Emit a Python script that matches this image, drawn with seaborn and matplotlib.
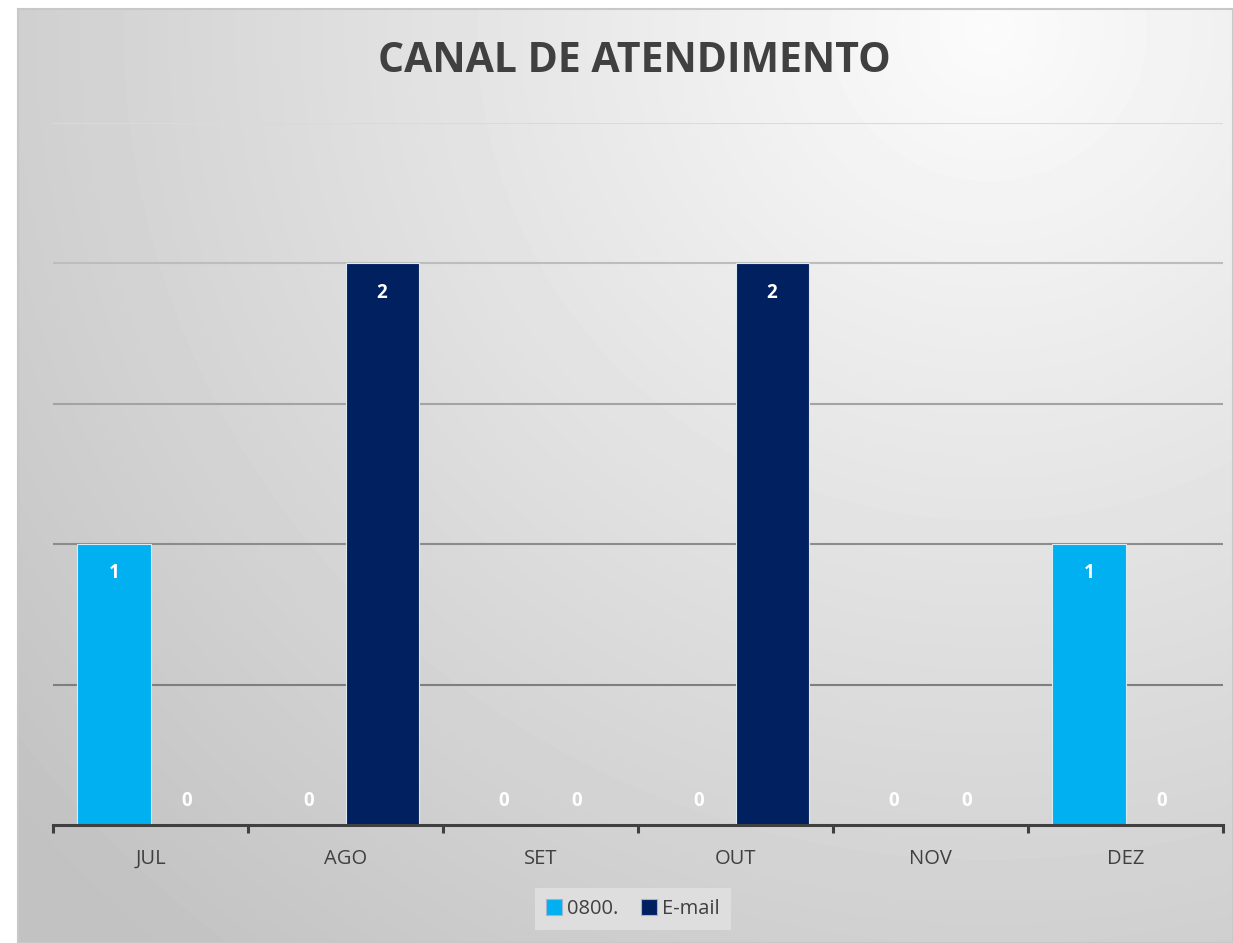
import numpy as np
import pandas as pd
import matplotlib
matplotlib.use("Agg")
import matplotlib.pyplot as plt
import seaborn as sns

# ---- data ----
months = ["JUL", "AGO", "SET", "OUT", "NOV", "DEZ"]
series_names = ["0800.", "E-mail"]
values_0800 = [1, 0, 0, 0, 0, 1]
values_email = [0, 2, 0, 2, 0, 0]
title = "CANAL DE ATENDIMENTO"
colors = ["#00B0F0", "#002060"]

df = pd.DataFrame({
    "Mês": months * 2,
    "Canal": [series_names[0]] * len(months) + [series_names[1]] * len(months),
    "Valor": values_0800 + values_email,
})

sns.set_theme(style="white")
plt.rcParams["font.family"] = ["Open Sans", "DejaVu Sans"]

W, H = 1233, 943
fig = plt.figure(figsize=(W / 100, H / 100), dpi=100)
fig.patch.set_facecolor("white")

# background gradient panel
x0, y0 = 18 / W, 0
bg = fig.add_axes([x0, y0, 1 - x0, 1 - 9 / H], zorder=0)
gx = np.linspace(0, 1, 400)
gy = np.linspace(0, 1, 300)
X, Y = np.meshgrid(gx, gy)
d = np.sqrt(((X - 0.80) * 1.0) ** 2 + ((Y - 0.02) * 0.8) ** 2)
d = np.clip(d / 1.05, 0, 1)
shade = 0.985 - d * (0.985 - 0.76)
bg.imshow(shade, cmap="gray", vmin=0, vmax=1, aspect="auto",
          extent=[0, 1, 1, 0], interpolation="bilinear")
bg.set_xticks([])
bg.set_yticks([])
for s in bg.spines.values():
    s.set_color("#c8c8c8")
    s.set_linewidth(1.5)

# main axes
ax = fig.add_axes([53 / W, 1 - 825 / H, (1223 - 53) / W, (825 - 123) / H], zorder=1)
ax.patch.set_alpha(0)

sns.barplot(data=df, x="Mês", y="Valor", hue="Canal", order=months,
            hue_order=series_names, palette=colors, saturation=1, width=0.75, gap=0,
            edgecolor="#dfe9f0", linewidth=0.8, ax=ax, legend=True,
            errorbar=None, zorder=3)

ax.set_xlim(-0.5, len(months) - 0.5)
ax.set_ylim(0, 2.5)
ax.set_yticks(np.arange(0, 2.51, 0.5))
ax.set_yticklabels([])
ax.tick_params(axis="y", length=0)
ax.set_xlabel("")
ax.set_ylabel("")

# gridlines with fading colours
grid_cols = {0.5: "#7f7f7f", 1.0: "#8c8c8c", 1.5: "#a3a3a3", 2.0: "#bdbdbd", 2.5: "#dadada"}
for yv, c in grid_cols.items():
    ax.axhline(yv, color=c, linewidth=1.5, zorder=1)

for name in ["top", "right", "left"]:
    ax.spines[name].set_visible(False)
ax.spines["bottom"].set_color("#404040")
ax.spines["bottom"].set_linewidth(2.2)
ax.spines["bottom"].set_zorder(5)

ax.set_xticks(np.arange(len(months)))
ax.set_xticklabels(months)
ax.set_xticks(np.arange(-0.5, len(months), 1.0), minor=True)
ax.tick_params(axis="x", which="major", length=0, pad=17, labelsize=14.5, labelcolor="#404040")
ax.tick_params(axis="x", which="minor", length=6, width=2.2, color="#404040", direction="out", bottom=True)

# data labels
for cont in ax.containers:
    for p in cont.patches:
        h = p.get_height()
        xc = p.get_x() + p.get_width() / 2
        off = -21 if h > 0 else 17
        ax.annotate(f"{int(round(h))}", (xc, h), xytext=(0, off), textcoords="offset points",
                    ha="center", va="center", color="white", fontsize=13.5,
                    fontweight="bold", zorder=6)

# title
fig.text(634 / W, 1 - 61 / H, title, ha="center", va="center", fontsize=29.5,
         fontweight="bold", color="#404040")

# legend
leg = ax.legend(loc="center", bbox_to_anchor=(633 / W, 1 - 909 / H),
                bbox_transform=fig.transFigure, ncol=2, frameon=True,
                fontsize=14.5, handlelength=0.8, handleheight=0.8, handletextpad=0.25,
                columnspacing=1.1, borderpad=0.55, fancybox=False)
leg.get_frame().set_facecolor("#dedede")
leg.get_frame().set_edgecolor("none")
leg.get_frame().set_alpha(1)
for t in leg.get_texts():
    t.set_color("#404040")
for h in leg.legend_handles:
    h.set_edgecolor("#9fb4d0")
    h.set_linewidth(0.8)

fig.savefig("out.png", dpi=100)
